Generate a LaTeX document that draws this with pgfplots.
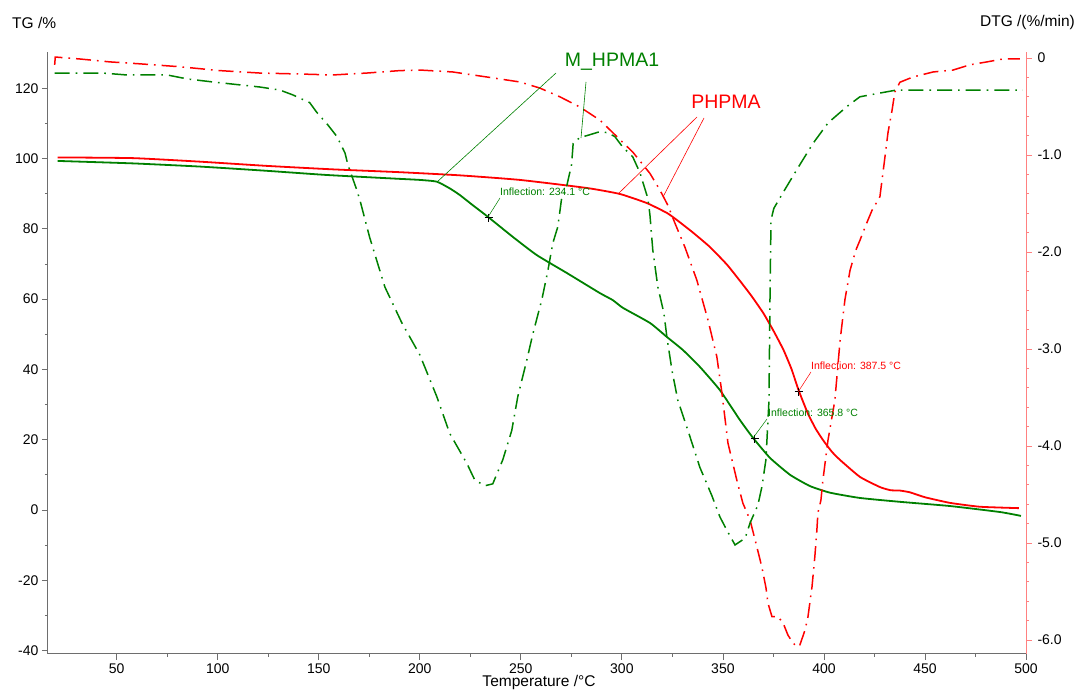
\documentclass[border=0pt]{standalone}
\usepackage{pgfplots}
\pgfplotsset{compat=1.18}
\usepackage{fontspec}
\setmainfont{Liberation Sans}
\definecolor{tggreen}{RGB}{0,128,0}
\definecolor{tgred}{RGB}{255,0,0}
\definecolor{axpink}{RGB}{255,128,128}
\definecolor{axgray}{RGB}{110,110,110}
\tikzset{dashdot/.style={dash pattern=on 15pt off 6pt on 1.6pt off 6pt}}
\begin{document}
\begin{tikzpicture}
\useasboundingbox (-48pt,-38pt) rectangle (1028pt,654pt);
\begin{axis}[
  scale only axis, width=978pt, height=602pt,
  at={(0pt,0pt)}, anchor=south west,
  xmin=16, xmax=500, ymin=-41, ymax=130.3,
  axis y line*=left, axis x line*=bottom,
  x axis line style={axgray, line width=1pt},
  y axis line style={axgray, line width=1pt},
  tick style={axgray, line width=0.8pt},
  tick align=outside,
  major tick length=6pt, minor tick length=3pt,
  xtick={50,100,...,500}, minor x tick num=1,
  ytick={-40,-20,...,120}, minor y tick num=1,
  tick label style={font=\fontsize{14}{16}\selectfont, black},
  /pgf/number format/assume math mode=true,
  clip=false,
]
\addplot[tgred, line width=1.8pt, line join=round, smooth, tension=0.3] coordinates {
(20.8,100.3) (58,100.1) (91,99.1) (124,97.9) (157,96.9) (190,96.1) (219.8,95.2)
(249.5,93.9) (282.7,91.6) (299,89.9) (312.4,87.3) (322.3,84.5) (327.2,82.5)
(335,79.0) (343.6,74.8) (352,69.8) (358.4,65.2) (364,61) (370,56) (375,51)
(380,45.5) (384,40) (387.5,34.0) (392,27.5) (396,23) (400,19.5) (404,16.5)
(408,14.2) (417.8,9.4) (427.7,6.5) (433,5.6) (437.6,5.5) (442.6,5.0) (450,3.6)
(462.4,2.0) (477.2,0.9) (496.5,0.5)
};
\addplot[tggreen, line width=1.8pt, line join=round, smooth, tension=0.3] coordinates {
(20.8,99.3) (58,98.6) (91,97.7) (124,96.5) (154,95.3) (186.6,94.3) (200,93.9)
(208.4,93.4) (214.8,91.5) (219.8,89.6) (226,86.8) (233.7,83.4) (246,77.7)
(257.9,72.5) (272.8,67.4) (289.1,61.7) (295.5,59.7) (300.5,57.5) (313.9,53.2)
(322.3,49.2) (330.2,45.5) (338.6,40.7) (348.5,34.1) (358.4,25.6) (364.9,20.5)
(373.3,14.8) (383.2,10.0) (393,6.8) (403,4.9) (417.8,3.4) (437.6,2.3)
(462.4,1.1) (487.1,-0.6) (497.5,-1.7)
};
\addplot[only marks, mark=+, mark size=4pt, black, mark options={line width=0.7pt}] coordinates {
(234.1,83.2) (387.5,33.6) (365.8,20.3)
};
\end{axis}
\begin{axis}[
  scale only axis, width=978pt, height=602pt,
  at={(0pt,0pt)}, anchor=south west,
  xmin=16, xmax=500, ymin=-6.144, ymax=0.062,
  axis y line*=right, axis x line=none,
  y axis line style={axpink, line width=1pt},
  ytick style={axpink, line width=0.8pt},
  tick align=outside,
  major tick length=6pt, minor tick length=3pt,
  ytick={-6,-5,-4,-3,-2,-1,0},
  yticklabels={-6.0,-5.0,-4.0,-3.0,-2.0,-1.0,0},
  minor y tick num=4,
  tick label style={font=\fontsize{14}{16}\selectfont, black},
  yticklabel style={anchor=west, xshift=2pt},
]
\addplot[tgred, line width=1.5pt, dashdot] coordinates {
(19.3,-0.07) (19.6,0.01) (31.7,-0.01) (46.5,-0.04) (61.4,-0.06) (81.2,-0.09)
(101,-0.13) (120.8,-0.155) (140.6,-0.165) (156.9,-0.175) (173.8,-0.155)
(190.1,-0.13) (200,-0.124) (216.3,-0.144) (233.2,-0.196) (249.5,-0.247)
(259.4,-0.31) (269.3,-0.40) (279.2,-0.505) (289.1,-0.64) (297.5,-0.81)
(305.4,-0.97) (313.9,-1.19) (318.8,-1.36) (322.8,-1.52) (326.2,-1.70)
(331.2,-1.95) (337.1,-2.29) (342.6,-2.70) (347,-3.08) (349.5,-3.45)
(352.5,-3.97) (357.1,-4.37) (359.9,-4.59) (363.4,-4.76) (366.8,-5.04)
(369.3,-5.25) (371.3,-5.46) (372.3,-5.62) (374.3,-5.76) (377.2,-5.76)
(379.7,-5.82) (382.2,-5.95) (384.7,-6.03) (386.6,-6.07) (388.1,-6.05)
(390.6,-5.90) (392.1,-5.76) (394.1,-5.45) (395.5,-5.14) (396.5,-4.87)
(397,-4.69) (398.5,-4.56) (399.5,-4.35) (402,-3.94) (405.4,-3.53) (408,-2.91)
(410.4,-2.49) (412.9,-2.19) (415.8,-1.98) (417.8,-1.88) (420.8,-1.72)
(423.8,-1.57) (427.7,-1.43) (430.2,-1.02) (431.7,-0.77) (433.7,-0.54)
(435.1,-0.35) (437.6,-0.25) (444,-0.196) (454,-0.144) (463.9,-0.124)
(472.3,-0.07) (480.7,-0.04) (488.6,-0.01) (497,-0.01)
};
\addplot[tggreen, line width=1.5pt, dashdot] coordinates {
(19.3,-0.155) (43,-0.155) (55,-0.175) (75,-0.175) (85,-0.216) (97.5,-0.247)
(120.8,-0.299) (130.7,-0.33) (137.1,-0.38) (145.5,-0.46) (149,-0.56)
(154.5,-0.69) (159,-0.81) (163,-0.98) (164.4,-1.10) (168.8,-1.36)
(170.3,-1.46) (175.2,-1.85) (182.7,-2.36) (191.1,-2.73) (200,-3.06)
(208.4,-3.49) (214.8,-3.87) (223.3,-4.18) (227.2,-4.35) (232.2,-4.41)
(236.1,-4.39) (241.1,-4.14) (245.5,-3.84) (248.5,-3.49) (253,-3.11)
(256,-2.84) (260.4,-2.49) (263.4,-2.19) (265.8,-1.91) (268.3,-1.74)
(270.1,-1.46) (272.6,-1.33) (275.1,-1.10) (275.9,-0.88) (279.2,-0.82)
(282.7,-0.80) (289,-0.76) (293,-0.77) (296.5,-0.81) (300.5,-0.92)
(305.4,-1.02) (308.9,-1.18) (312.9,-1.45) (313.9,-1.62) (315.3,-1.98)
(317.8,-2.36) (320.8,-2.63) (322.3,-2.88) (324.8,-3.22) (327.7,-3.53)
(332.7,-3.84) (338.6,-4.22) (344.5,-4.51) (348.5,-4.73) (352,-4.87)
(356,-5.02) (361,-4.95) (363.5,-4.79) (367.3,-4.61) (369.3,-4.42)
(371.3,-4.14) (372.8,-3.53) (373.3,-2.49) (373.8,-1.67) (375.2,-1.55)
(379.7,-1.39) (386.6,-1.15) (394.6,-0.88) (402,-0.67) (406.4,-0.59)
(411.4,-0.5) (417.8,-0.4) (422.8,-0.38) (436,-0.33) (461,-0.33) (498.5,-0.33)
};
\end{axis}
% annotations (1pt = 1px of the reference)
\begin{scope}[x=1pt,y=1pt]
\node[anchor=west, font=\fontsize{15.5}{18}\selectfont, inner sep=0pt] at (-36,631) {TG /\%};
\node[anchor=east, font=\fontsize{15.5}{18}\selectfont, inner sep=0pt] at (1027,631) {DTG /(\%/min)};
\node[anchor=base, font=\fontsize{15.5}{18}\selectfont, inner sep=0pt] at (491,-33) {Temperature /°C};
\node[tggreen, font=\fontsize{19.5}{22}\selectfont, inner sep=0pt] at (564,592) {M\_HPMA1};
\node[tgred, font=\fontsize{19.5}{22}\selectfont, inner sep=0pt] at (678,552) {PHPMA};
\draw[tggreen, line width=0.6pt] (508,581) -- (389,472);
\draw[tggreen, line width=0.6pt] (538,572) -- (533,516);
\draw[tgred, line width=0.6pt] (649,537) -- (570,460);
\draw[tgred, line width=0.6pt] (656,536) -- (615,457);
\node[anchor=west, tggreen, font=\fontsize{10.5}{12}\selectfont, inner sep=0pt] at (452,462) {Inflection: 234.1 °C};
\draw[tggreen, line width=0.5pt] (452,456) -- (440,437);
\node[anchor=west, tgred, font=\fontsize{10.5}{12}\selectfont, inner sep=0pt] at (763,288) {Inflection: 387.5 °C};
\draw[tgred, line width=0.5pt] (763,282) -- (750,262);
\node[anchor=west, tggreen, font=\fontsize{10.5}{12}\selectfont, inner sep=0pt] at (720,241) {Inflection: 365.8 °C};
\draw[tggreen, line width=0.5pt] (719,235) -- (705,216);
\end{scope}
\end{tikzpicture}
\end{document}
